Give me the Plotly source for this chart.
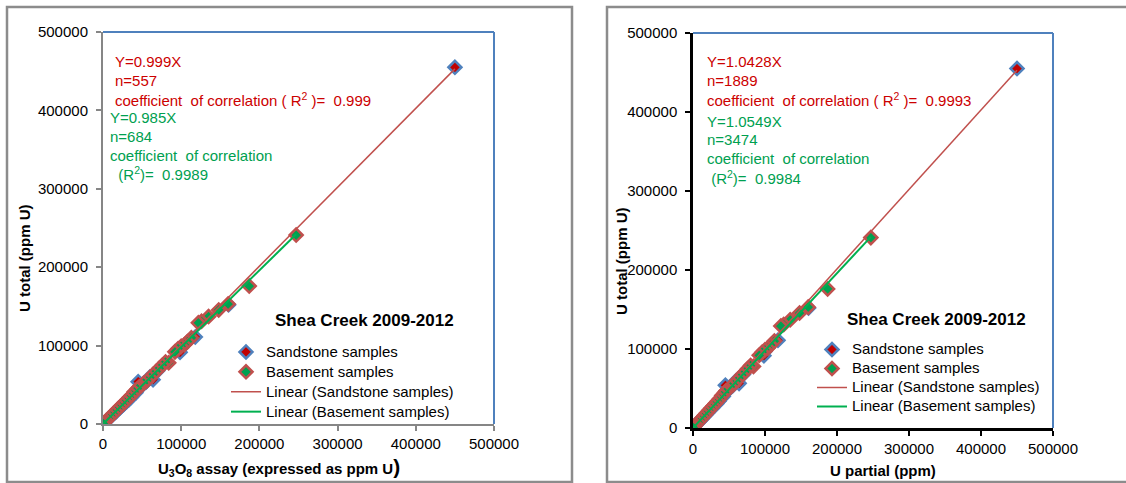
import plotly.graph_objects as go

W, H = 1126, 483
FONT = "Arial, Liberation Sans, sans-serif"

# ---------------- data ----------------
sand_x = [450000, 160500, 118000, 100000, 98500, 70000, 64000, 60000, 55000, 50000,
          45000, 42000, 36000, 33000, 30000, 27000, 25000, 22000, 20000, 17000,
          15000, 12000, 10000, 8000, 5000, 3000, 1500, 800, 300]
sand_y = [455000, 152000, 111000, 97000, 91500, 68000, 56500, 60000, 53500, 49000,
          54000, 40000, 34000, 31000, 28500, 25500, 24000, 21000, 19000, 16000,
          14500, 11500, 9500, 7800, 4800, 2900, 1400, 800, 300]

base_x = [247000, 187000, 160000, 148000, 135000, 126000, 122000, 113000, 108000, 104000,
          100000, 96000, 92000, 84000, 80000, 76000, 72000, 68000, 64000, 60000,
          56000, 52000, 48000, 46000, 44000, 40000, 37000, 34000, 31000, 28000,
          25000, 22000, 19000, 16000, 13000, 10000, 7000, 4000, 2000, 500]
base_y = [241000, 176000, 153000, 145500, 137000, 131000, 129000, 110000, 105000, 101000,
          99000, 96000, 92000, 78000, 79000, 75000, 71000, 67000, 63000, 59000,
          55000, 52000, 48000, 47000, 45000, 41000, 37000, 34000, 31000, 28000,
          25000, 22000, 19000, 16000, 13000, 10000, 7000, 4000, 2000, 500]

# trend-line end points
sand_fit_x = [0, 450000]
sand_fit_y = [0, 453000]
base_fit_x = [0, 247000]
base_fit_y = [0, 242000]

tick_vals = [0, 100000, 200000, 300000, 400000, 500000]
tick_text = ["0", "100000", "200000", "300000", "400000", "500000"]

series_names = ["Sandstone samples", "Basement samples",
                "Linear (Sandstone samples)", "Linear (Basement samples)"]

left_eq_red = ["Y=0.999X", "n=557", "coefficient  of correlation ( R<sup>2</sup> )=  0.999"]
left_eq_green = ["Y=0.985X", "n=684", "coefficient  of correlation", "  (R<sup>2</sup>)=  0.9989"]
right_eq_red = ["Y=1.0428X", "n=1889", "coefficient  of correlation ( R<sup>2</sup> )=  0.9993"]
right_eq_green = ["Y=1.0549X", "n=3474", "coefficient  of correlation", " (R<sup>2</sup>)=  0.9984"]

# ---------------- styles ----------------
RED_TXT = "#cc0000"
GREEN_TXT = "#00a050"
BLUE = "#4f81bd"
TREND_RED = "#c0504d"
TREND_GREEN = "#00b050"


def px(x):
    return x / W


def py(y):
    return 1 - y / H


def lname(name):
    # visible text at 15px; legend row height driven by the (smaller) legend font size
    return "<span style='font-size:15px'>" + name + "</span>"


fig = go.Figure()

panels = [
    dict(xa="x", ya="y", xd=[103, 494], yd=[32, 424], legend="legend", axcol="#868686", axw=2),
    dict(xa="x2", ya="y2", xd=[693, 1053], yd=[33, 428], legend="legend2", axcol="#000000", axw=2.5),
]

for p in panels:
    fig.add_trace(go.Scatter(
        x=sand_x, y=sand_y, mode="markers", name=lname(series_names[0]),
        xaxis=p["xa"], yaxis=p["ya"], legend=p["legend"],
        marker=dict(symbol="diamond", size=10, color="#c00000", line=dict(color=BLUE, width=2.5)),
    ))
    fig.add_trace(go.Scatter(
        x=base_x, y=base_y, mode="markers", name=lname(series_names[1]),
        xaxis=p["xa"], yaxis=p["ya"], legend=p["legend"],
        marker=dict(symbol="diamond", size=10, color="#00a050", line=dict(color=TREND_RED, width=2.5)),
    ))
    fig.add_trace(go.Scatter(
        x=sand_fit_x, y=sand_fit_y, mode="lines", name=lname(series_names[2]),
        xaxis=p["xa"], yaxis=p["ya"], legend=p["legend"],
        line=dict(color=TREND_RED, width=1.5),
    ))
    fig.add_trace(go.Scatter(
        x=base_fit_x, y=base_fit_y, mode="lines", name=lname(series_names[3]),
        xaxis=p["xa"], yaxis=p["ya"], legend=p["legend"],
        line=dict(color=TREND_GREEN, width=2),
    ))

axis_common = dict(
    range=[0, 500000], tickvals=tick_vals, ticktext=tick_text,
    showgrid=False, zeroline=False, ticks="outside", ticklen=5,
    tickfont=dict(family=FONT, size=15, color="#000000"),
    showline=True, fixedrange=True, automargin=False,
)

layout_axes = {}
for i, p in enumerate(panels):
    sfx = "" if i == 0 else "2"
    layout_axes["xaxis" + sfx] = dict(
        axis_common, domain=[px(p["xd"][0]), px(p["xd"][1])],
        anchor="y" + sfx, linecolor=p["axcol"], linewidth=p["axw"], tickcolor=p["axcol"], tickwidth=1.5,
    )
    layout_axes["yaxis" + sfx] = dict(
        axis_common, domain=[py(p["yd"][1]), py(p["yd"][0])],
        anchor="x" + sfx, linecolor=p["axcol"], linewidth=p["axw"], tickcolor=p["axcol"], tickwidth=1.5,
        ticklabelstandoff=5,
    )

shapes = [
    # outer panel frames
    dict(type="rect", xref="paper", yref="paper", x0=px(7), x1=px(572), y0=py(482), y1=py(7),
         line=dict(color="#8c8c8c", width=2.5), layer="below"),
    dict(type="rect", xref="paper", yref="paper", x0=px(607), x1=px(1140), y0=py(482), y1=py(7),
         line=dict(color="#8c8c8c", width=2.5), layer="below"),
]
# blue top / right plot-area borders
for i, p in enumerate(panels):
    sfx = "" if i == 0 else "2"
    shapes.append(dict(type="line", xref="x" + sfx + " domain", yref="y" + sfx + " domain",
                       x0=0, x1=1, y0=1, y1=1, line=dict(color=BLUE, width=2)))
    shapes.append(dict(type="line", xref="x" + sfx + " domain", yref="y" + sfx + " domain",
                       x0=1, x1=1, y0=0, y1=1, line=dict(color=BLUE, width=2)))

annotations = []


def add_text(text, x, y, color="#000000", size=15, xanchor="left", bold=False, angle=0):
    if bold:
        text = "<b>" + text + "</b>"
    annotations.append(dict(
        text=text, x=px(x), y=py(y), xref="paper", yref="paper",
        xanchor=xanchor, yanchor="middle", showarrow=False, textangle=angle,
        font=dict(family=FONT, size=size, color=color),
    ))


# left panel equations
for t, yy in zip(left_eq_red, [62, 81, 100]):
    add_text(t, 113, yy, RED_TXT)
for t, yy in zip(left_eq_green, [118, 136, 155, 173]):
    add_text(t, 108, yy, GREEN_TXT)
# right panel equations
for t, yy in zip(right_eq_red, [62, 81, 100]):
    add_text(t, 705, yy, RED_TXT)
for t, yy in zip(right_eq_green, [121, 140, 158, 177]):
    add_text(t, 705, yy, GREEN_TXT)

# legend titles
add_text("Shea Creek 2009-2012", 364, 320, size=17, xanchor="center", bold=True)
add_text("Shea Creek 2009-2012", 936, 319, size=17, xanchor="center", bold=True)

# axis titles
add_text("U<sub>3</sub>O<sub>8</sub> assay (expressed as ppm U<span style='font-size:21px'>)</span>",
         279, 467, size=15, xanchor="center", bold=True)
add_text("U partial (ppm)", 883, 470, size=15, xanchor="center", bold=True)
add_text("U total (ppm U)", 24, 259, size=15, xanchor="center", bold=True, angle=-90)
add_text("U total (ppm U)", 621, 262, size=15, xanchor="center", bold=True, angle=-90)

legend_common = dict(
    bgcolor="rgba(0,0,0,0)", borderwidth=0,
    xanchor="left", yanchor="top", tracegroupgap=0, itemclick=False, itemdoubleclick=False,
)

fig.update_layout(
    width=W, height=H, margin=dict(l=0, r=0, t=0, b=0, autoexpand=False),
    paper_bgcolor="white", plot_bgcolor="white",
    showlegend=True,
    legend=dict(legend_common, x=px(226), y=py(337),
                font=dict(family=FONT, size=13, color="#000000")),
    legend2=dict(legend_common, x=px(812), y=py(335),
                 font=dict(family=FONT, size=11.3, color="#000000")),
    shapes=shapes, annotations=annotations,
    **layout_axes,
)

fig.write_html("out.html")
